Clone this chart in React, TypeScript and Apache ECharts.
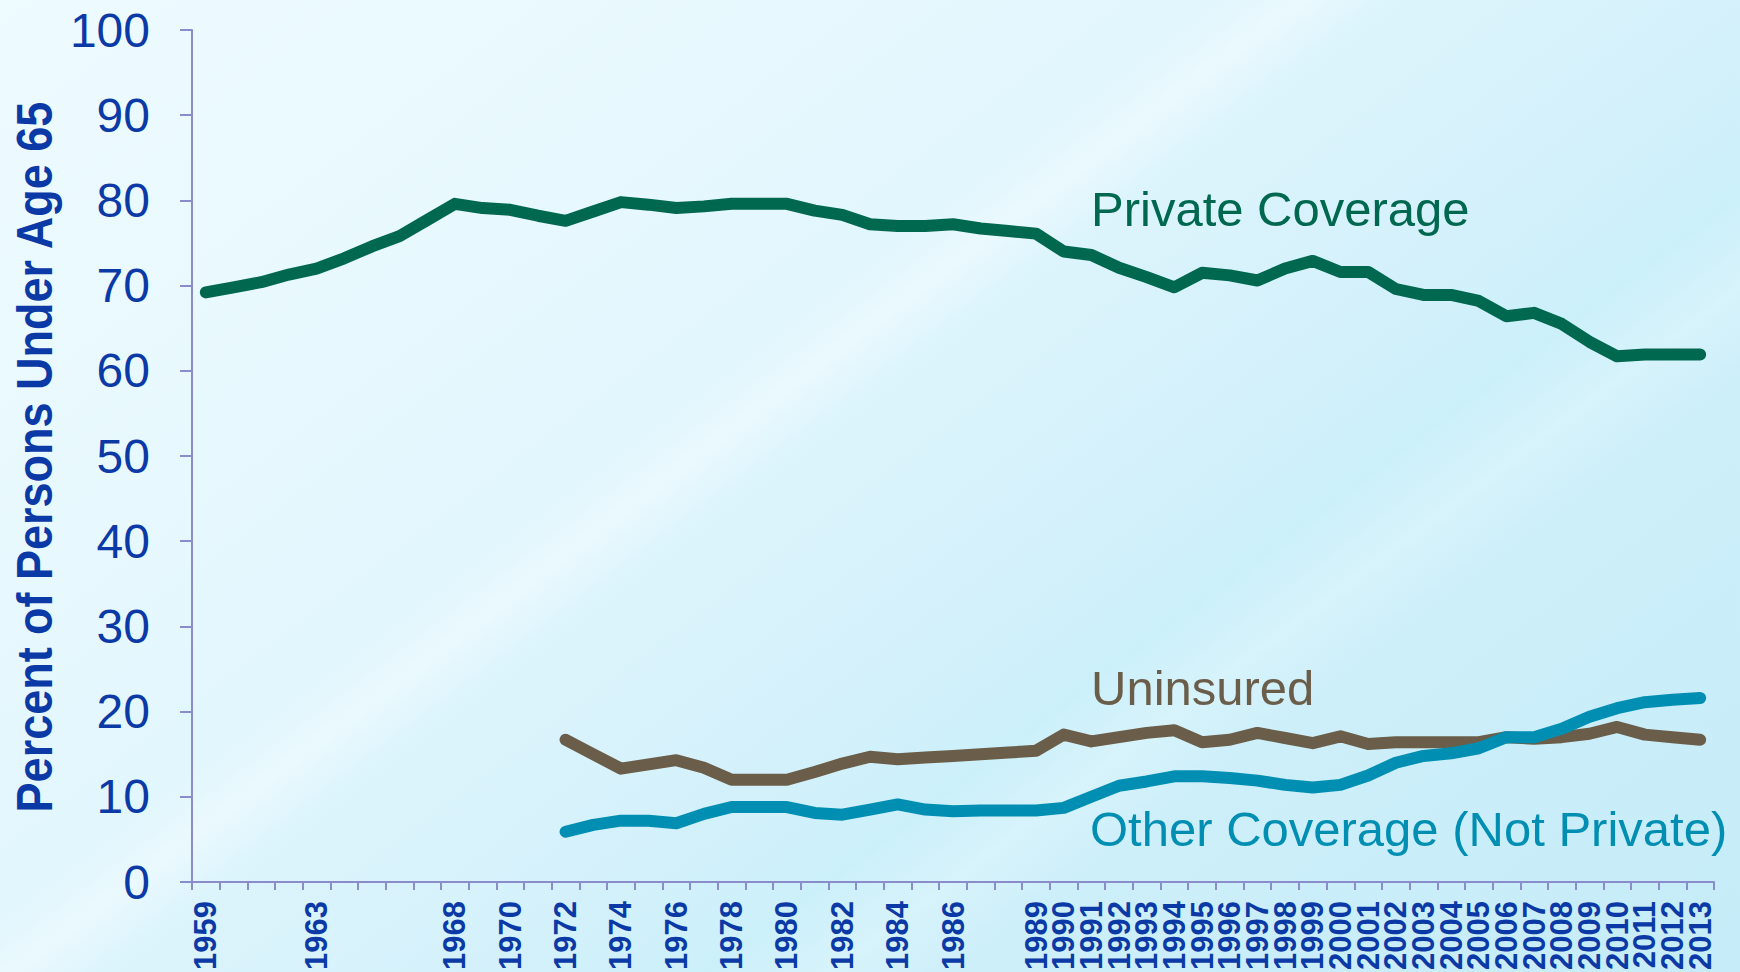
import React, { useEffect, useRef } from "react";
import * as echarts from "echarts";

const years = [
  "1959","1960","1961","1962","1963","1964","1965","1966","1967","1968",
  "1969","1970","1971","1972","1973","1974","1975","1976","1977","1978",
  "1979","1980","1981","1982","1983","1984","1985","1986","1987","1988",
  "1989","1990","1991","1992","1993","1994","1995","1996","1997","1998",
  "1999","2000","2001","2002","2003","2004","2005","2006","2007","2008",
  "2009","2010","2011","2012","2013",
];

const labeledYears = [
  "1959","1963","1968","1970","1972","1974","1976","1978","1980","1982","1984","1986",
  "1989","1990","1991","1992","1993","1994","1995","1996","1997","1998","1999","2000",
  "2001","2002","2003","2004","2005","2006","2007","2008","2009","2010","2011","2012","2013",
];

const privateCoverage = [
  69.2, 69.8, 70.4, 71.3, 72.0, 73.2, 74.6, 75.8, 77.7, 79.6,
  79.1, 78.9, 78.2, 77.6, 78.7, 79.8, 79.5, 79.1, 79.3, 79.6,
  79.6, 79.6, 78.8, 78.3, 77.2, 77.0, 77.0, 77.2, 76.7, 76.4,
  76.1, 74.0, 73.6, 72.1, 71.0, 69.8, 71.5, 71.2, 70.6, 72.0,
  72.9, 71.6, 71.6, 69.6, 68.9, 68.9, 68.2, 66.4, 66.8, 65.5,
  63.4, 61.7, 61.9, 61.9, 61.9,
];

const uninsured = [
  null, null, null, null, null, null, null, null, null, null, null, null, null,
  16.7, 15.0, 13.3, 13.8, 14.3, 13.4, 12.0, 12.0, 12.0, 12.9,
  13.9, 14.7, 14.4, 14.6, 14.8, 15.0, 15.2, 15.4, 17.3, 16.5,
  17.0, 17.5, 17.8, 16.4, 16.7, 17.5, 16.9, 16.3, 17.1, 16.2,
  16.4, 16.4, 16.4, 16.4, 17.0, 16.8, 17.0, 17.4, 18.2, 17.3,
  17.0, 16.7,
];

const otherCoverage = [
  null, null, null, null, null, null, null, null, null, null, null, null, null,
  5.9, 6.7, 7.2, 7.2, 6.9, 8.0, 8.8, 8.8, 8.8, 8.1,
  7.9, 8.5, 9.1, 8.5, 8.3, 8.4, 8.4, 8.4, 8.7, 10.0,
  11.3, 11.8, 12.4, 12.4, 12.2, 11.9, 11.4, 11.1, 11.4, 12.5,
  14.0, 14.8, 15.1, 15.7, 17.0, 17.0, 18.0, 19.4, 20.4, 21.1,
  21.4, 21.6,
];

const seriesNames = ["Private Coverage", "Uninsured", "Other Coverage (Not Private)"];
const seriesColors = ["#00684f", "#6a5e4a", "#008fb3"];
const yTitle = "Percent of Persons Under Age 65";

const FONT = '"Liberation Sans", Arial, sans-serif';
const BLUE = "#0b3aa6";
const AXIS = "#8a8ccb";

export default function App() {
  const ref = useRef<HTMLDivElement>(null);

  useEffect(() => {
    if (!ref.current) return;
    const chart = echarts.init(ref.current, null, { renderer: "svg" });
    const lineSeries = (name: string, data: (number | null)[], color: string) => ({
      name,
      type: "line",
      data,
      showSymbol: false,
      symbol: "none",
      connectNulls: false,
      lineStyle: { color, width: 12, cap: "round", join: "round" },
      itemStyle: { color },
      z: 3,
    });
    chart.setOption({
      animation: false,
      backgroundColor: "transparent",
      grid: { left: 192, right: 26, top: 30, bottom: 90, containLabel: false, outerBoundsMode: "none" },
      xAxis: {
        type: "category",
        data: years,
        boundaryGap: true,
        axisLine: { lineStyle: { color: AXIS, width: 2 } },
        axisTick: { show: true, interval: 0, length: 8, lineStyle: { color: AXIS, width: 2 } },
        axisLabel: {
          interval: 0,
          formatter: (v: string) => (labeledYears.includes(v) ? v : ""),
          rotate: 90,
          margin: 19,
          color: BLUE,
          fontFamily: FONT,
          fontWeight: "bold",
          fontSize: 31,
          lineHeight: 14,
          hideOverlap: false,
          showMinLabel: true,
          showMaxLabel: true,
        },
        splitLine: { show: false },
      },
      yAxis: {
        type: "value",
        min: 0,
        max: 100,
        interval: 10,
        axisLine: { show: true, lineStyle: { color: AXIS, width: 2 } },
        axisTick: { show: true, length: 12, lineStyle: { color: AXIS, width: 2 } },
        axisLabel: { color: BLUE, fontFamily: FONT, fontSize: 48, margin: 42 },
        splitLine: { show: false },
      },
      graphic: [
        {
          type: "text",
          x: 35,
          y: 457,
          rotation: Math.PI / 2,
          scaleX: 0.9,
          style: {
            text: yTitle,
            fill: BLUE,
            fontFamily: FONT,
            fontWeight: "bold",
            fontSize: 50,
            align: "center",
            verticalAlign: "middle",
          },
        },
        {
          type: "text",
          x: 1091,
          y: 209,
          style: { text: seriesNames[0], fill: seriesColors[0], fontFamily: FONT, fontSize: 49, align: "left", verticalAlign: "middle" },
        },
        {
          type: "text",
          x: 1091,
          y: 688,
          style: { text: seriesNames[1], fill: seriesColors[1], fontFamily: FONT, fontSize: 49, align: "left", verticalAlign: "middle" },
        },
        {
          type: "text",
          x: 1090,
          y: 829,
          style: { text: seriesNames[2], fill: seriesColors[2], fontFamily: FONT, fontSize: 49, align: "left", verticalAlign: "middle" },
        },
      ],
      series: [
        lineSeries(seriesNames[0], privateCoverage, seriesColors[0]),
        lineSeries(seriesNames[1], uninsured, seriesColors[1]),
        lineSeries(seriesNames[2], otherCoverage, seriesColors[2]),
      ],
    });
    return () => chart.dispose();
  }, []);

  return (
    <div
      style={{
        position: "fixed",
        left: 0,
        top: 0,
        width: 1740,
        height: 972,
        overflow: "hidden",
        background:
          "linear-gradient(143deg, #eefbff 0%, #e6f8fe 30%, #e1f6fd 40%, #eaf9fe 43%, #dcf4fc 46%, #d4f1fb 58%, #ccf0fa 66%, #d7f3fb 70%, #cdeffa 74%, #c5ecf8 100%)",
      }}
    >
      <div ref={ref} style={{ width: 1740, height: 972 }} />
    </div>
  );
}
